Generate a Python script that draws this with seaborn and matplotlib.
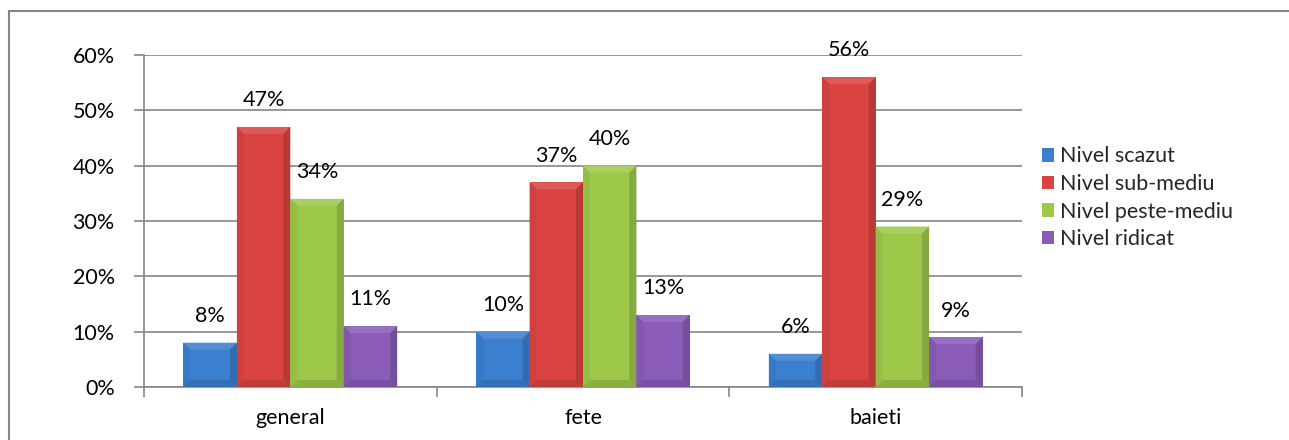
import numpy as np
import pandas as pd
import matplotlib
matplotlib.use("Agg")
import matplotlib.pyplot as plt
import matplotlib.colors as mcolors
from matplotlib.patches import Polygon, Rectangle
import seaborn as sns

# Data
groups = ["general", "fete", "baieti"]
levels = ["Nivel scazut", "Nivel sub-mediu", "Nivel peste-mediu", "Nivel ridicat"]
scazut = [8, 10, 6]
sub_mediu = [47, 37, 56]
peste_mediu = [34, 40, 29]
ridicat = [11, 13, 9]
y_ticks = [0, 10, 20, 30, 40, 50, 60]

colors = ["#3b7fcf", "#d94441", "#9dc84a", "#8a5cb8"]

rows = []
for lvl, vals in zip(levels, [scazut, sub_mediu, peste_mediu, ridicat]):
    for g, v in zip(groups, vals):
        rows.append({"grup": g, "nivel": lvl, "procent": v})
df = pd.DataFrame(rows)

sns.set_theme(style="white")
plt.rcParams["font.family"] = ["Lato", "DejaVu Sans"]
FS = 15.5

fig = plt.figure(figsize=(12.89, 4.4), dpi=100)
ax = fig.add_axes([0.1117, 0.1205, 0.6812, 0.7545])

sns.barplot(data=df, x="grup", y="procent", hue="nivel", order=groups,
            hue_order=levels, palette=colors, width=0.73, gap=0,
            saturation=1, ax=ax, legend=True, edgecolor="none", linewidth=0)

ax.set_xlim(-0.5, 2.5)
ax.set_ylim(0, 60)
ax.set_yticks(y_ticks)
ax.set_yticklabels([f"{t}%" for t in y_ticks])
ax.set_xlabel("")
ax.set_ylabel("")
ax.yaxis.grid(True, color="#868686", linewidth=1.2)
ax.set_axisbelow(True)
for side in ["top", "right"]:
    ax.spines[side].set_visible(False)
for side in ["left", "bottom"]:
    ax.spines[side].set_color("#868686")
    ax.spines[side].set_linewidth(1.2)

# Category boundary ticks on the x axis
ax.set_xticks([0, 1, 2])
ax.set_xticks([-0.5, 0.5, 1.5, 2.5], minor=True)
ax.tick_params(axis="x", which="major", length=0, labelsize=FS, pad=15, colors="black")
ax.tick_params(axis="x", which="minor", length=7, width=1.2, color="#868686", bottom=True)
ax.tick_params(axis="y", which="major", length=7, width=1.2, color="#868686",
               labelsize=FS, left=True, pad=14, labelcolor="black")

# Bevelled look and value labels for each bar
inv = ax.transData.inverted()
p0 = inv.transform((0, 0))
p1 = inv.transform((7, 7))
bev_x = p1[0] - p0[0]
bev_y = p1[1] - p0[1]
for container in ax.containers:
    for bar in container:
        x0, y0 = bar.get_x(), bar.get_y()
        w, h = bar.get_width(), bar.get_height()
        base = np.array(mcolors.to_rgb(bar.get_facecolor()))
        light = np.clip(base + (1 - base) * 0.12, 0, 1)
        dark = np.clip(base * 0.85, 0, 1)
        by = min(bev_y, h / 2)
        bx = min(bev_x, w / 2)
        top = y0 + h
        ax.add_patch(Polygon([(x0, top), (x0 + w, top), (x0 + w - bx, top - by), (x0 + bx, top - by)],
                             closed=True, facecolor=light, edgecolor="none", zorder=3))
        ax.add_patch(Polygon([(x0, y0), (x0 + bx, y0 + by), (x0 + bx, top - by), (x0, top)],
                             closed=True, facecolor=np.clip(base * 0.95, 0, 1),
                             edgecolor="none", zorder=3))
        ax.add_patch(Polygon([(x0 + w, y0), (x0 + w, top), (x0 + w - bx, top - by), (x0 + w - bx, y0 + by)],
                             closed=True, facecolor=dark, edgecolor="none", zorder=3))
        ax.add_patch(Polygon([(x0, y0), (x0 + w, y0), (x0 + w - bx, y0 + by), (x0 + bx, y0 + by)],
                             closed=True, facecolor=np.clip(base * 0.88, 0, 1),
                             edgecolor="none", zorder=3))
        ax.annotate(f"{h:.0f}%", (x0 + w / 2, top), xytext=(0, 12),
                    textcoords="offset points", ha="center", va="bottom",
                    fontsize=FS, color="black", zorder=5)

# Legend on the right
handles, labels = ax.get_legend_handles_labels()
ax.legend(handles, labels, loc="center left", bbox_to_anchor=(1.005, 0.57),
          frameon=False, fontsize=FS, handlelength=0.6, handleheight=0.6,
          handletextpad=0.25, labelspacing=0.35, borderaxespad=0.3)

# Chart frame
fig.patches.append(Rectangle((9 / 1289, -0.05), 1.2, (440 - 11) / 440 + 0.05,
                             transform=fig.transFigure, fill=False,
                             edgecolor="#868686", linewidth=1.5, zorder=0))

fig.savefig("out.png", dpi=100, facecolor="white")
